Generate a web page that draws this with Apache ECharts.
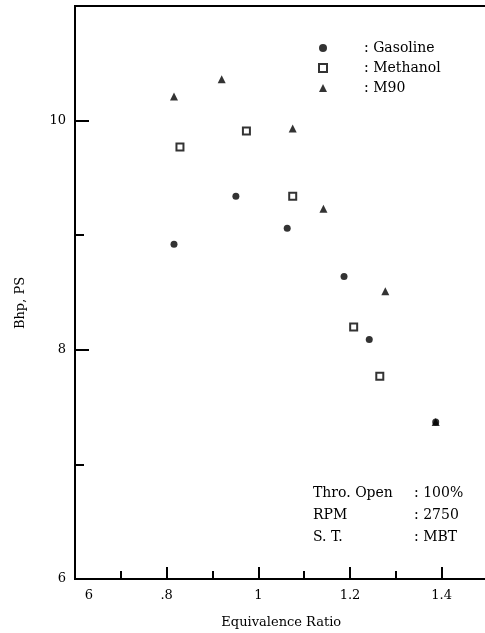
<!DOCTYPE html>
<html><head><meta charset="utf-8">
<script src="https://cdn.jsdelivr.net/npm/echarts@6/dist/echarts.min.js"></script>
<style>html,body{margin:0;padding:0;background:#fff}#c{width:485px;height:633px}</style>
</head><body><div id="c"></div>
<script>
const seriesNames = ['Gasoline', 'Methanol', 'M90'];
const gasolineX = [0.816, 0.951, 1.063, 1.187, 1.242, 1.387];
const gasolineY = [8.92, 9.34, 9.06, 8.64, 8.09, 7.37];
const methanolX = [0.829, 0.974, 1.075, 1.208, 1.265];
const methanolY = [9.77, 9.91, 9.34, 8.20, 7.77];
const m90X = [0.816, 0.920, 1.075, 1.142, 1.277, 1.387];
const m90Y = [10.21, 10.36, 9.93, 9.23, 8.51, 7.37];
const xTickValues = [0.6, 0.8, 1.0, 1.2, 1.4];
const xTickLabels = ['6', '.8', '1', '1.2', '1.4'];
const yTickValues = [6, 8, 10];
const yTickLabels = ['6', '8', '10'];
const noteLabels = ['Thro. Open', 'RPM', 'S. T.'];
const noteValues = [': 100%', ': 2750', ': MBT'];

const F = '"DejaVu Serif", "Liberation Serif", serif';
const zip = (xs, ys) => xs.map((x, i) => [x, ys[i]]);
function lookup(vals, labels, v) {
  for (let i = 0; i < vals.length; i++) if (Math.abs(vals[i] - v) < 1e-6) return labels[i];
  return '';
}
const chart = echarts.init(document.getElementById('c'), null, {renderer: 'canvas'});
const graphics = [
  {type: 'text', x: 21, y: 303, rotation: Math.PI / 2,
   style: {text: 'Bhp, PS', font: '13px ' + F, fill: '#000', align: 'center', verticalAlign: 'middle'}}
];
noteLabels.forEach((t, i) => {
  graphics.push({type: 'text', x: 313, y: 493 + i * 22,
    style: {text: t, font: '14px ' + F, fill: '#000', verticalAlign: 'middle'}});
  graphics.push({type: 'text', x: 414, y: 493 + i * 22,
    style: {text: noteValues[i], font: '14px ' + F, fill: '#000', verticalAlign: 'middle'}});
});
chart.setOption({
  animation: false,
  backgroundColor: '#fff',
  grid: {left: 75, top: 6, width: 412.5, height: 573, outerBoundsMode: 'none', containLabel: false,
         show: true, borderColor: '#000', borderWidth: 2, backgroundColor: 'transparent'},
  legend: {
    orient: 'vertical', left: 313, top: 36, itemWidth: 8, itemHeight: 8, itemGap: 6,
    data: seriesNames,
    formatter: n => ': ' + n,
    textStyle: {fontFamily: F, fontSize: 14, color: '#000', padding: [0, 0, 0, 32]}
  },
  xAxis: {
    type: 'value', min: 0.6, max: 1.5, interval: 0.2,
    name: 'Equivalence Ratio', nameLocation: 'middle', nameGap: 37,
    nameTextStyle: {fontFamily: F, fontSize: 13, color: '#000'},
    axisLine: {lineStyle: {color: '#000', width: 2}},
    axisTick: {inside: true, length: 12, lineStyle: {color: '#000', width: 2}},
    minorTick: {show: true, splitNumber: 2, length: 8, lineStyle: {color: '#000', width: 2}},
    splitLine: {show: false},
    axisLabel: {
      margin: 10, color: '#000', fontFamily: F, fontSize: 13, showMaxLabel: false,
      formatter: v => {
        const s = lookup(xTickValues, xTickLabels, v);
        return Math.abs(v - 0.6) < 1e-6 ? '{a|' + s + '}' : s;
      },
      rich: {a: {fontFamily: F, fontSize: 13, color: '#000', padding: [0, 0, 0, 28]}}
    }
  },
  yAxis: {
    type: 'value', min: 6, max: 11, interval: 2,
    axisLine: {lineStyle: {color: '#000', width: 2}},
    axisTick: {inside: true, length: 14, lineStyle: {color: '#000', width: 2}},
    minorTick: {show: true, splitNumber: 2, length: 9, lineStyle: {color: '#000', width: 2}},
    splitLine: {show: false},
    axisLabel: {
      margin: 9, color: '#000', fontFamily: F, fontSize: 13, showMaxLabel: false,
      formatter: v => lookup(yTickValues, yTickLabels, v)
    }
  },
  series: [
    {name: seriesNames[0], type: 'scatter', data: zip(gasolineX, gasolineY), symbol: 'circle', symbolSize: 7,
     itemStyle: {color: '#000'}},
    {name: seriesNames[1], type: 'scatter', data: zip(methanolX, methanolY), symbol: 'rect', symbolSize: 7,
     itemStyle: {color: '#fff', borderColor: '#000', borderWidth: 2}},
    {name: seriesNames[2], type: 'scatter', data: zip(m90X, m90Y), symbol: 'triangle', symbolSize: 8,
     itemStyle: {color: '#000'}}
  ],
  graphic: graphics
});
</script></body></html>
